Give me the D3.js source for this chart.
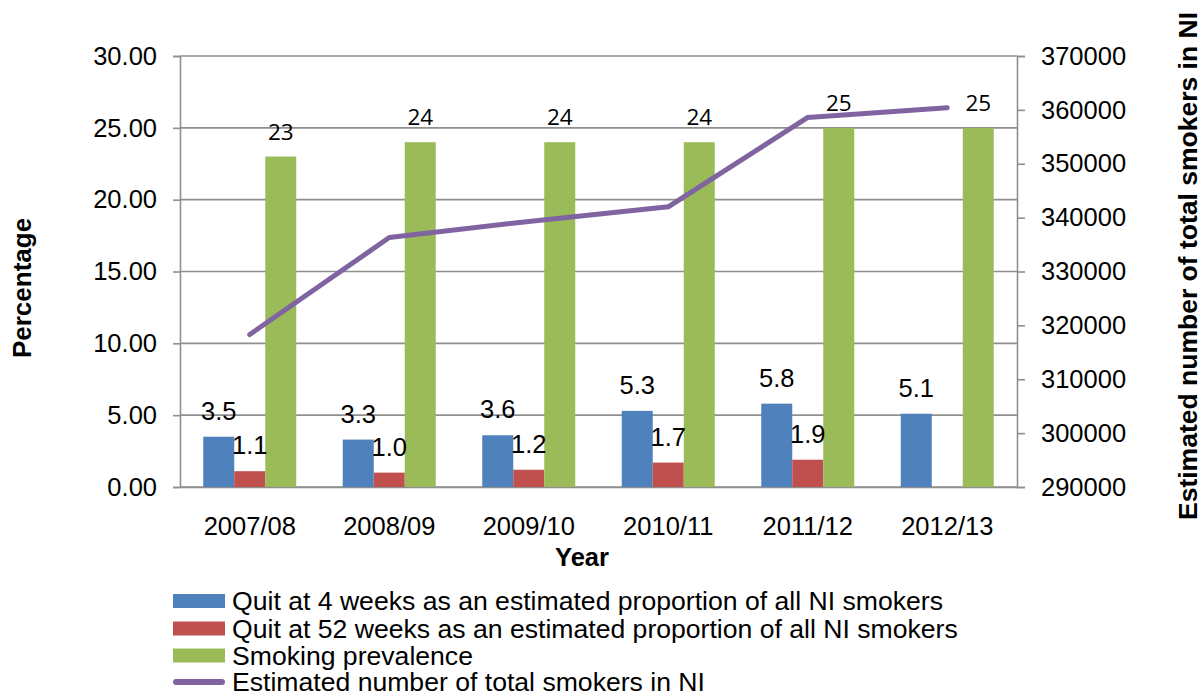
<!DOCTYPE html>
<html>
<head>
<meta charset="utf-8">
<script src="https://cdn.jsdelivr.net/npm/d3@7/dist/d3.min.js"></script>
<style>
  html, body { margin: 0; padding: 0; background: #ffffff; }
  svg { display: block; }
  text { font-family: "Liberation Sans", Arial, sans-serif; fill: #000; }
</style>
</head>
<body>
<svg id="chart" width="1200" height="693"></svg>
<script>
// Northern Ireland smoking cessation figures by financial year
const categories = ["2007/08", "2008/09", "2009/10", "2010/11", "2011/12", "2012/13"];
const quit4Weeks = [3.5, 3.3, 3.6, 5.3, 5.8, 5.1];
const quit52Weeks = [1.1, 1.0, 1.2, 1.7, 1.9, null];
const prevalence = [23, 24, 24, 24, 25, 25];
const totalSmokers = [318300, 336300, 339300, 342000, 358600, 360400];

const leftTicks = [0, 5, 10, 15, 20, 25, 30];
const rightTicks = [290000, 300000, 310000, 320000, 330000, 340000, 350000, 360000, 370000];

const seriesNames = [
  "Quit at 4 weeks as an estimated proportion of all NI smokers",
  "Quit at 52 weeks as an estimated proportion of all NI smokers",
  "Smoking prevalence",
  "Estimated number of total smokers in NI"
];
const colors = ["#4F81BD", "#C0504D", "#9BBB59", "#8064A2"];

const svg = d3.select("#chart");
const plot = { left: 180, right: 1017, top: 56, bottom: 487 };
const gridColor = "#8f8f8f";

const x = d3.scaleBand()
  .domain(categories)
  .range([plot.left, plot.right])
  .paddingInner(1 / 3)
  .paddingOuter(1 / 6);

const barKeys = ["q4", "q52", "prev"];
const xSub = d3.scaleBand().domain(barKeys).range([0, x.bandwidth()]);

const yLeft = d3.scaleLinear().domain([0, 30]).range([plot.bottom, plot.top]);
const yRight = d3.scaleLinear().domain([290000, 370000]).range([plot.bottom, plot.top]);

// Horizontal gridlines on the percentage scale
svg.append("g")
  .selectAll("line")
  .data(leftTicks)
  .join("line")
  .attr("x1", plot.left)
  .attr("x2", plot.right)
  .attr("y1", d => yLeft(d))
  .attr("y2", d => yLeft(d))
  .attr("stroke", gridColor)
  .attr("stroke-width", 1.6);

// Left axis
const leftAxis = svg.append("g")
  .attr("transform", `translate(${plot.left},0)`)
  .call(d3.axisLeft(yLeft).tickValues(leftTicks).tickFormat(d3.format(".2f")).tickSize(7).tickPadding(16));
leftAxis.select(".domain").attr("stroke", gridColor).attr("stroke-width", 1.6);
leftAxis.selectAll(".tick line").attr("stroke", gridColor).attr("stroke-width", 1.6);
leftAxis.selectAll(".tick text")
  .style("font-family", "'Liberation Sans', Arial, sans-serif")
  .style("font-size", "25.5px")
  .attr("fill", "#000");

// Right axis
const rightAxis = svg.append("g")
  .attr("transform", `translate(${plot.right},0)`)
  .call(d3.axisRight(yRight).tickValues(rightTicks).tickFormat(d3.format("d")).tickSize(8).tickPadding(16));
rightAxis.select(".domain").attr("stroke", gridColor).attr("stroke-width", 1.6);
rightAxis.selectAll(".tick line").attr("stroke", gridColor).attr("stroke-width", 1.6);
rightAxis.selectAll(".tick text")
  .style("font-family", "'Liberation Sans', Arial, sans-serif")
  .style("font-size", "25.5px")
  .attr("fill", "#000");

// Category axis
const bottomAxis = svg.append("g")
  .attr("transform", `translate(0,${plot.bottom})`)
  .call(d3.axisBottom(x).tickSize(0).tickPadding(30));
bottomAxis.select(".domain").attr("stroke", gridColor).attr("stroke-width", 1.6);
bottomAxis.selectAll(".tick text")
  .style("font-family", "'Liberation Sans', Arial, sans-serif")
  .style("font-size", "25.5px")
  .attr("fill", "#000");

// Bars
const rows = categories.map((c, i) => ({
  cat: c,
  q4: quit4Weeks[i],
  q52: quit52Weeks[i],
  prev: prevalence[i]
}));

const barData = [];
rows.forEach(r => {
  barKeys.forEach((k, j) => {
    if (r[k] != null) barData.push({ cat: r.cat, key: k, value: r[k], color: colors[j] });
  });
});

svg.append("g")
  .selectAll("rect")
  .data(barData)
  .join("rect")
  .attr("x", d => x(d.cat) + xSub(d.key))
  .attr("width", xSub.bandwidth())
  .attr("y", d => yLeft(d.value))
  .attr("height", d => yLeft(0) - yLeft(d.value))
  .attr("fill", d => d.color);

// Value labels above bars
svg.append("g")
  .selectAll("text")
  .data(barData)
  .join("text")
  .attr("x", d => x(d.cat) + xSub(d.key) + xSub.bandwidth() / 2)
  .attr("y", d => yLeft(d.value) - 17)
  .attr("text-anchor", "middle")
  .style("font-family", d => d.key === "prev" ? "'Open Sans', sans-serif" : "'Liberation Sans', Arial, sans-serif")
  .style("font-size", d => d.key === "prev" ? "22.5px" : "25.5px")
  .text(d => d.key === "prev" ? d3.format("d")(d.value) : d3.format(".1f")(d.value));

// Total smokers line on the right-hand scale
const line = d3.line()
  .x((d, i) => x(categories[i]) + x.bandwidth() / 2)
  .y(d => yRight(d));

svg.append("path")
  .datum(totalSmokers)
  .attr("d", line)
  .attr("fill", "none")
  .attr("stroke", colors[3])
  .attr("stroke-width", 5)
  .attr("stroke-linecap", "round")
  .attr("stroke-linejoin", "round");

// Axis titles
svg.append("text")
  .attr("transform", "translate(31,288) rotate(-90)")
  .attr("text-anchor", "middle")
  .style("font-weight", "bold")
  .style("font-size", "26px")
  .text("Percentage");

svg.append("text")
  .attr("x", 582)
  .attr("y", 566)
  .attr("text-anchor", "middle")
  .style("font-weight", "bold")
  .style("font-size", "25.5px")
  .text("Year");

svg.append("text")
  .attr("transform", "translate(1197,520) rotate(-90)")
  .attr("text-anchor", "start")
  .style("font-weight", "bold")
  .style("font-size", "26.5px")
  .text(seriesNames[3]);

// Legend
const legendRows = [601, 628.5, 655.5, 682];
const legend = svg.append("g");
seriesNames.forEach((name, i) => {
  const cy = legendRows[i];
  if (i < 3) {
    legend.append("rect")
      .attr("x", 173).attr("y", cy - 7)
      .attr("width", 52).attr("height", 14)
      .attr("fill", colors[i]);
  } else {
    legend.append("line")
      .attr("x1", 176).attr("x2", 222)
      .attr("y1", cy).attr("y2", cy)
      .attr("stroke", colors[i])
      .attr("stroke-width", 6)
      .attr("stroke-linecap", "round");
  }
  legend.append("text")
    .attr("x", 232)
    .attr("y", cy + 9)
    .style("font-size", "26.6px")
    .text(name);
});
</script>
</body>
</html>
